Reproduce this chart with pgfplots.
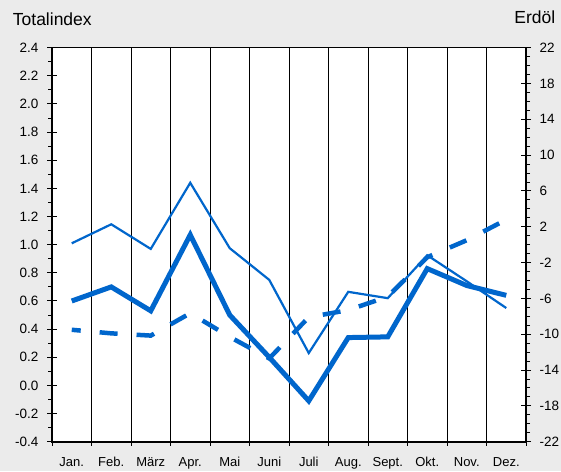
\documentclass[border=0pt]{standalone}
\usepackage{fontspec}
\setmainfont{Liberation Sans}
\usepackage{pgfplots}
\pgfplotsset{compat=1.18}
\definecolor{lineblue}{RGB}{0,102,204}
\definecolor{bggray}{RGB}{235,235,235}

\pgfplotsset{
  monat/.style={
      scale only axis, width=474pt, height=394pt,
      at={(52pt,29.3pt)}, anchor=south west,
      xmin=0, xmax=12,
      tick align=outside, major tick length=10pt, minor tick length=4pt,
      /pgf/number format/assume math mode=true,
      tick label style={font=\fontsize{13.5}{14}\selectfont},
      every tick/.append style={black, line width=1pt},
    },
}

\begin{document}
\begin{tikzpicture}[x=1pt,y=1pt]
\useasboundingbox (0,0) rectangle (561,471);
\fill[bggray] (0,0) rectangle (561,471);

% Totalindex (linke Achse)
\begin{axis}[monat,
    axis background/.style={fill=white},
    axis line style={line width=0.8pt},
    ymin=-0.4, ymax=2.4,
    tick pos=left,
    xtick={0,...,12}, xticklabels={},
    xmajorgrids, major grid style={black, line width=0.8pt},
    major x tick style={yshift=6pt},
    extra x ticks={0.5,1.5,...,11.5},
    extra x tick labels={Jan.,Feb.,März,Apr.,Mai,Juni,Juli,Aug.,Sept.,Okt.,Nov.,Dez.},
    extra x tick style={grid=none, tick style={draw=none},
        xticklabel style={font=\fontsize{13}{14}\selectfont, yshift=-2pt}},
    ytick={-0.4,-0.2,0,0.2,0.4,0.6,0.8,1.0,1.2,1.4,1.6,1.8,2.0,2.2,2.4},
    minor y tick num=1,
    major y tick style={xshift=5pt},
    yticklabel style={/pgf/number format/.cd, fixed, fixed zerofill, precision=1},
  ]
  \addplot[lineblue, line width=2.2pt] coordinates {
    (0.5,1.01) (1.5,1.145) (2.5,0.97) (3.5,1.44) (4.5,0.975) (5.5,0.75)
    (6.5,0.23) (7.5,0.665) (8.5,0.62) (9.5,0.925) (10.5,0.74) (11.5,0.55)};
  \addplot[lineblue, line width=5pt] coordinates {
    (0.5,0.60) (1.5,0.70) (2.5,0.53) (3.5,1.07) (4.5,0.50) (5.5,0.20)
    (6.5,-0.11) (7.5,0.34) (8.5,0.345) (9.5,0.83) (10.5,0.71) (11.5,0.64)};
\end{axis}

% Erdoel (rechte Achse)
\begin{axis}[monat,
    ymin=-22, ymax=22,
    axis x line=none, axis y line*=right,
    ytick={-22,-18,...,22},
    minor y tick num=3,
    major y tick style={xshift=-5pt},
  ]
  \addplot[lineblue, line width=4.5pt, dash pattern=on 18pt off 19pt, dash phase=9pt] coordinates {
    (0.5,-9.5) (1.5,-9.9) (2.5,-10.15) (3.5,-7.65) (4.5,-10.3) (5.5,-12.7)
    (6.5,-8.1) (7.5,-7.3) (8.5,-5.8) (9.5,-1.4) (10.5,0.5) (11.5,2.8)};
\end{axis}

\draw[line width=2pt] (52,423.3) -- (52,29.3) -- (526,29.3) -- (526,423.3);
\draw[line width=0.8pt] (52,423.3) -- (526,423.3);

\node[anchor=base west, inner sep=0, font=\fontsize{17.5}{20}\selectfont] at (12.7,445) {Totalindex};
\node[anchor=base east, inner sep=0, font=\fontsize{17.5}{20}\selectfont] at (555.5,447) {Erdöl};
\end{tikzpicture}
\end{document}
